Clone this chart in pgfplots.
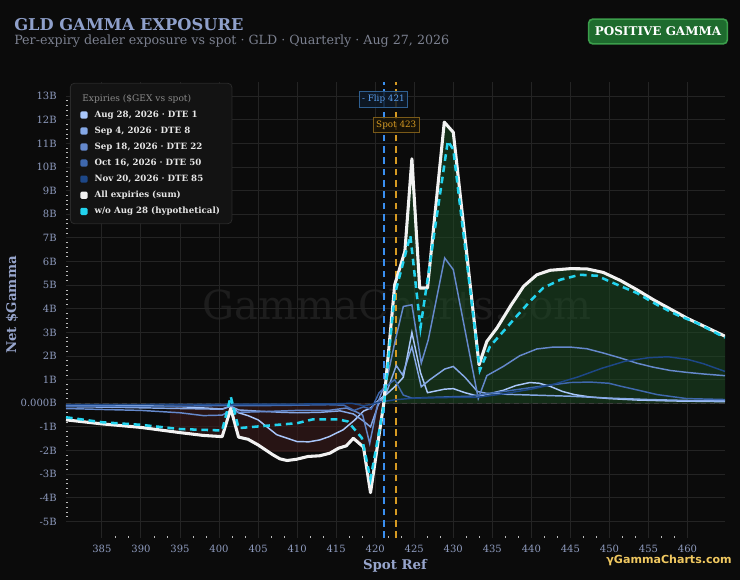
\documentclass[border=0pt]{standalone}
\usepackage{pgfplots}
\pgfplotsset{compat=1.18}
\usepackage{fontspec}
\setmainfont{DejaVu Serif}
\newfontfamily\logofont{DejaVu Sans}
\definecolor{bg}{HTML}{0B0B0B}
\definecolor{titlec}{HTML}{8FA0CB}
\definecolor{subc}{HTML}{7C8190}
\definecolor{tickc}{HTML}{8E9BBE}
\definecolor{labc}{HTML}{97A5CC}
\definecolor{gridc}{HTML}{242424}
\definecolor{minortick}{HTML}{BBBBBB}
\definecolor{badgefill}{HTML}{1E6B2E}
\definecolor{badgeborder}{HTML}{3B9E4B}
\definecolor{wm}{HTML}{1D1D1D}
\definecolor{gold}{HTML}{F0C860}
\definecolor{legbg}{HTML}{131313}
\definecolor{legborder}{HTML}{2A2A2A}
\definecolor{legtext}{HTML}{E6E6E6}
\definecolor{legtitle}{HTML}{8A8A8A}
\definecolor{augc}{HTML}{A9C7FB}
\definecolor{sepfc}{HTML}{85A8E6}
\definecolor{sepec}{HTML}{6589CC}
\definecolor{octc}{HTML}{3F68AD}
\definecolor{novc}{HTML}{1D4787}
\definecolor{sumc}{HTML}{F2F2F2}
\definecolor{cyanc}{HTML}{22D3EE}
\definecolor{posfill}{HTML}{1D4F25}
\definecolor{negfill}{HTML}{3A1A1A}
\definecolor{zerol}{HTML}{3C3C3C}
\definecolor{flipc}{HTML}{3A8FF0}
\definecolor{flipbg}{HTML}{0E1A28}
\definecolor{flipborder}{HTML}{2F5F90}
\definecolor{fliptext}{HTML}{5AA0F0}
\definecolor{orangeref}{HTML}{D69A22}
\definecolor{spotbg}{HTML}{1A1406}
\definecolor{spotborder}{HTML}{7A5A18}
\begin{document}
\begin{tikzpicture}[x=0.75pt,y=0.75pt]
\fill[bg] (0,0) rectangle (740,580);
\node[anchor=base west, font=\bfseries\fontsize{12.2}{14}\selectfont, text=titlec, inner sep=0] at (14,549) {GLD GAMMA EXPOSURE};
\node[anchor=base west, font=\fontsize{9.5}{11}\selectfont, text=subc, inner sep=0] at (14,535) {Per-expiry dealer exposure vs spot · GLD · Quarterly · Aug 27, 2026};
\node[draw=badgeborder, fill=badgefill, line width=1.2pt, rounded corners=3pt, minimum width=104pt, minimum height=18.5pt, font=\bfseries\fontsize{9}{10}\selectfont, text=white, inner sep=0] at (658,548.5) {POSITIVE GAMMA};
\node[font=\fontsize{30}{30}\selectfont, text=wm] at (397,275) {GammaCharts.com};
\begin{axis}[
  at={(49.5pt,31.5pt)}, anchor=south west,
  width=494.25pt, height=342pt, scale only axis,
  xmin=380.4, xmax=464.8, ymin=-5.7, ymax=13.6,
  axis line style={draw=none},
  xtick={385,390,...,460},
  ytick={-5,-4,...,13},
  yticklabels={-5B,-4B,-3B,-2B,-1B,0.000B,1B,2B,3B,4B,5B,6B,7B,8B,9B,10B,11B,12B,13B},
  minor x tick num=2, minor y tick num=4,
  tick pos=left, tick align=inside,
  major tick length=0pt, minor tick length=1.3pt,
  minor tick style={draw=minortick, line width=0.6pt},
  grid=major, major grid style={draw=gridc, line width=0.7pt},
  ticklabel style={font=\fontsize{7.5}{9}\selectfont, text=tickc},
  yticklabel style={xshift=-3.5pt},
  xticklabel style={yshift=-2pt},
  /pgf/number format/assume math mode=true,
  /pgf/number format/set thousands separator={},
  legend cell align=left,
  legend image code/.code={\fill[draw=none, solid, rounded corners=1pt] (0pt,-2.6pt) rectangle (5.4pt,2.8pt);},
  legend style={at={(axis description cs:0.006,0.998)}, anchor=north west,
    fill=legbg, draw=legborder, line width=0.6pt, rounded corners=3pt,
    font=\bfseries\fontsize{6.5}{7.5}\selectfont, text=legtext,
    inner xsep=7.5pt, inner ysep=4.4pt, row sep=2.7pt,
    nodes={inner sep=1.5pt},
    /tikz/every odd column/.append style={column sep=3.8pt}},
]
% fills
\addplot[fill=negfill, fill opacity=0.6, draw=none, forget plot] coordinates {
(393.7,0) (393.7,-1.18) (395,-1.24) (398,-1.36) (400.4,-1.41) (401.5,-0.22) (402.5,-1.43) (403.7,-1.52) (405,-1.76) (406.9,-2.05) (411.4,-2.05) (412.9,-2.05) (414.2,-2.05) (415.3,-1.90) (416.3,-1.80) (417.2,-1.48) (418.5,-1.85) (418.6,-2.05) (420.2,-2.05) (421.1,0)};
\addplot[fill=posfill, fill opacity=0.5, draw=none, forget plot] coordinates {
(421.1,0) (422.5,5.02) (423.8,6.43) (424.7,10.35) (425.7,4.88) (426.7,4.88) (428.85,11.9) (430.0,11.47) (433.3,1.63) (434.3,2.62) (435.6,3.19) (437.3,4.10) (439.0,4.95) (440.7,5.44) (442.4,5.63) (445.0,5.70) (447.1,5.69) (449.2,5.54) (451.4,5.20) (453.5,4.81) (455.6,4.39) (457.8,3.99) (459.9,3.61) (462.0,3.28) (464.8,2.84) (464.8,0)};
% zero line
\addplot[color=zerol, line width=1.1pt, dash pattern=on 4pt off 3pt, forget plot] coordinates {(380.4,0) (464.8,0)};
% flip and spot
\addplot[color=flipc, line width=1.4pt, dash pattern=on 5pt off 3.5pt, forget plot] coordinates {(421.1,-5.7) (421.1,13.6)};
\addplot[color=orangeref, line width=1.5pt, dash pattern=on 5pt off 3.5pt, forget plot] coordinates {(422.65,-5.7) (422.65,13.6)};
% legend title
\addlegendimage{empty legend}
\addlegendentry{\hspace*{-9.2pt}\mdseries\color{legtitle}\fontsize{6.8}{8}\selectfont Expiries (\$GEX vs spot)\rule[-6.2pt]{0pt}{13.8pt}}
% Aug 28
\addplot[color=augc, line width=1.1pt] coordinates {
(380.4,-0.10) (385,-0.08) (390,-0.10) (395,-0.14) (400.4,-0.24) (401.5,-0.12) (402.5,-0.40) (403.7,-0.52) (405,-0.70) (407.4,-1.33) (410,-1.62) (411.5,-1.63) (412.9,-1.55) (414.1,-1.41) (415.9,-1.12) (417.4,-0.70) (418.5,-0.33) (419.4,-0.20) (420.5,0.15) (421.5,0.40) (422.5,0.70) (423.6,1.10) (424.7,3.00) (425.8,1.30) (426.7,0.45) (428.9,0.60) (430.0,0.62) (431.5,0.45) (433.2,0.30) (434.3,0.38) (436.4,0.55) (438,0.75) (439.8,0.88) (441,0.85) (442.4,0.72) (444,0.50) (445.5,0.37) (447.5,0.27) (450,0.20) (453.5,0.14) (458,0.10) (464.8,0.07)};
\addlegendentry{Aug 28, 2026 · DTE 1}
% Sep 4
\addplot[color=sepfc, line width=1.1pt] coordinates {
(380.4,-0.14) (385,-0.16) (390,-0.19) (395,-0.22) (400.4,-0.25) (401.5,-0.12) (402.5,-0.28) (405,-0.33) (408,-0.38) (410,-0.40) (413,-0.38) (415.5,-0.32) (417.2,-0.45) (418.5,-0.75) (419.4,-1.00) (420.4,-0.05) (421.5,0.50) (422.7,1.60) (423.5,1.20) (424.7,2.40) (425.9,0.70) (427,1.00) (428.9,1.45) (430.0,1.56) (431.5,1.10) (433.1,0.50) (434.3,0.42) (437,0.38) (440,0.35) (445,0.30) (450,0.22) (455,0.16) (460,0.12) (464.8,0.10)};
\addlegendentry{Sep 4, 2026 · DTE 8}
% Sep 18
\addplot[color=sepec, line width=1.1pt] coordinates {
(380.4,-0.22) (385,-0.26) (390,-0.30) (395,-0.40) (398,-0.52) (400.4,-0.50) (401.5,-0.30) (402.5,-0.38) (405,-0.36) (410,-0.30) (414,-0.30) (416.3,-0.20) (417.5,-0.35) (418.4,-0.50) (419.3,-1.70) (420.4,0.10) (421.5,1.00) (422.5,2.56) (423.6,4.10) (424.7,4.17) (425.9,1.70) (426.8,2.69) (428.9,6.15) (430.0,5.66) (433.2,0.20) (434.3,1.17) (436.4,1.56) (438.5,2.01) (440.7,2.30) (442.8,2.38) (445.0,2.38) (447.1,2.31) (449.2,2.13) (451.4,1.92) (453.5,1.70) (455.6,1.53) (457.8,1.39) (459.9,1.31) (462.1,1.24) (464.8,1.17)};
\addlegendentry{Sep 18, 2026 · DTE 22}
% Oct 16
\addplot[color=octc, line width=1.1pt] coordinates {
(380.4,-0.12) (385,-0.12) (390,-0.13) (395,-0.12) (400,-0.10) (405,-0.10) (410,-0.08) (414,-0.06) (416,-0.08) (417.3,-0.30) (418.5,-0.15) (419.5,-0.25) (420.5,0.45) (421.5,0.75) (422.5,1.00) (423.6,0.35) (424.7,0.22) (427,0.25) (430,0.28) (432.1,0.30) (436.4,0.50) (440.7,0.70) (445,0.88) (447.5,0.90) (449.9,0.85) (451.5,0.72) (453.5,0.57) (456.1,0.37) (459.9,0.20) (464.8,0.16)};
\addlegendentry{Oct 16, 2026 · DTE 50}
% Nov 20
\addplot[color=novc, line width=1.1pt] coordinates {
(380.4,-0.05) (390,-0.05) (400,-0.04) (410,-0.03) (415,-0.02) (417,0.00) (418.5,-0.10) (419.5,-0.05) (420.5,0.05) (422.5,0.15) (425,0.22) (430,0.25) (433,0.25) (436.4,0.40) (440,0.60) (443,0.82) (446,1.12) (449,1.48) (452,1.78) (455,1.93) (457.5,1.97) (460,1.86) (462,1.68) (464.8,1.35)};
\addlegendentry{Nov 20, 2026 · DTE 85}
% sum
\addplot[color=sumc, line width=2.3pt, line join=round] coordinates {
(380.4,-0.70) (385,-0.87) (390,-1.02) (395,-1.24) (398,-1.36) (400.4,-1.41) (401.5,-0.22) (402.5,-1.43) (403.7,-1.52) (405,-1.76) (406.9,-2.18) (407.8,-2.35) (408.7,-2.42) (409.9,-2.37) (411.4,-2.25) (412.9,-2.22) (414.2,-2.11) (415.3,-1.90) (416.3,-1.80) (417.2,-1.48) (418.5,-1.85) (419.4,-3.78) (421.1,0.00) (422.5,5.02) (423.8,6.43) (424.7,10.35) (425.7,4.88) (426.7,4.88) (428.85,11.9) (430.0,11.47) (433.3,1.63) (434.3,2.62) (435.6,3.19) (437.3,4.10) (439.0,4.95) (440.7,5.44) (442.4,5.63) (445.0,5.70) (447.1,5.69) (449.2,5.54) (451.4,5.20) (453.5,4.81) (455.6,4.39) (457.8,3.99) (459.9,3.61) (462.0,3.28) (464.8,2.84)};
\addlegendentry{All expiries (sum)}
% without Aug 28
\addplot[color=cyanc, line width=1.9pt, dash pattern=on 5pt off 3.5pt] coordinates {
(380.4,-0.59) (385,-0.80) (390,-0.91) (395,-1.09) (400.4,-1.15) (401.5,0.29) (402.5,-1.05) (405,-0.98) (410,-0.84) (412,-0.68) (415.3,-0.68) (416.5,-0.77) (418.3,-1.47) (419.4,-3.20) (421.1,-0.10) (422.5,4.60) (424.5,7.10) (425.8,3.20) (429.3,11.1) (430.0,10.75) (433.4,1.40) (434.7,2.41) (436.4,3.04) (438.1,3.68) (439.8,4.31) (441.5,4.88) (443.7,5.23) (446.2,5.44) (448.4,5.40) (450.5,5.09) (453.5,4.67) (456.1,4.17) (458.6,3.75) (461.2,3.40) (464.8,2.78)};
\addlegendentry{w/o Aug 28 (hypothetical)}
\node[draw=flipborder, fill=flipbg, fill opacity=0.85, text opacity=1, text=fliptext, font=\fontsize{6.6}{7}\selectfont, inner xsep=2pt, inner ysep=2.5pt, line width=0.6pt] at (axis cs:421.05,12.86) {- Flip 421};
\node[draw=spotborder, fill=spotbg, fill opacity=0.85, text opacity=1, text=orangeref, font=\fontsize{6.6}{7}\selectfont, inner xsep=2pt, inner ysep=2.5pt, line width=0.6pt] at (axis cs:422.7,11.78) {Spot 423};
\end{axis}
\node[rotate=90, font=\bfseries\fontsize{10}{12}\selectfont, text=labc] at (12,275) {Net \$Gamma};
\node[font=\bfseries\fontsize{10}{12}\selectfont, text=labc] at (395,14) {Spot Ref};
\node[anchor=east, font=\logofont\bfseries\fontsize{8.3}{10}\selectfont, text=gold, inner sep=0] at (732,20) {γGammaCharts.com};
\end{tikzpicture}
\end{document}
